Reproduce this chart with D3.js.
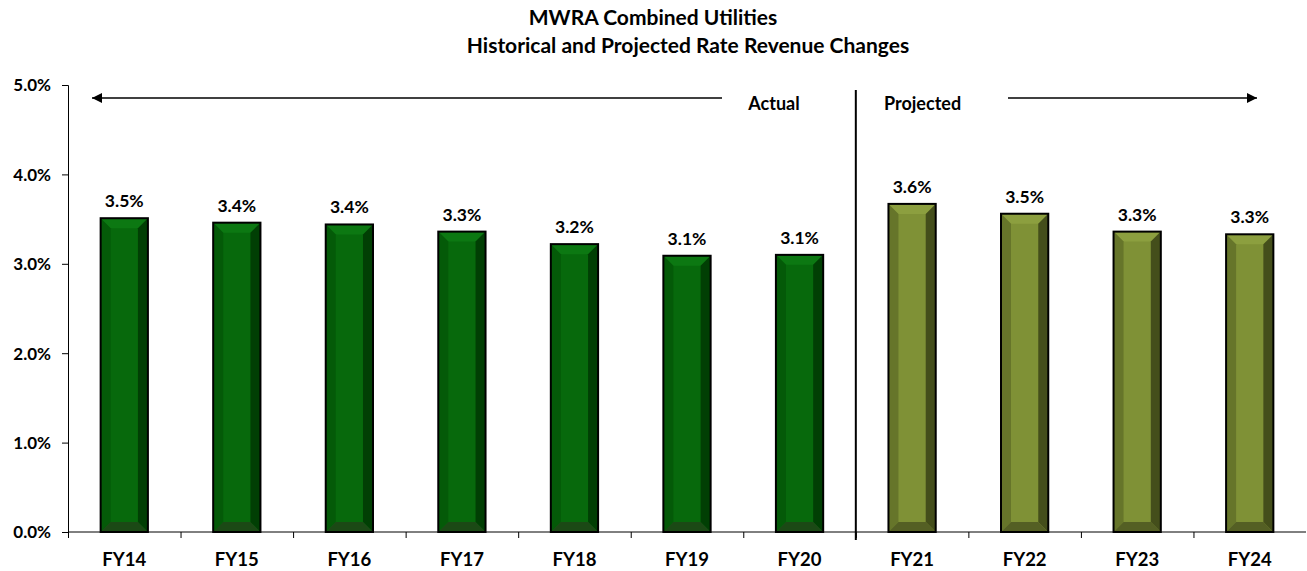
<!DOCTYPE html>
<html>
<head>
<meta charset="utf-8">
<script src="https://cdn.jsdelivr.net/npm/d3@7"></script>
<style>
  body { margin: 0; background: #fff; }
  text { font-family: Lato, "Open Sans", sans-serif; font-weight: bold; fill: #000; }
</style>
</head>
<body>
<div class="chart"></div>
<script>
// data
const years = ["FY14", "FY15", "FY16", "FY17", "FY18", "FY19", "FY20", "FY21", "FY22", "FY23", "FY24"];
const rateChange = [3.51, 3.46, 3.44, 3.36, 3.22, 3.09, 3.10, 3.67, 3.56, 3.36, 3.33];
const labels = ["3.5%", "3.4%", "3.4%", "3.3%", "3.2%", "3.1%", "3.1%", "3.6%", "3.5%", "3.3%", "3.3%"];
const yTicks = [0, 1, 2, 3, 4, 5];
const firstProjected = "FY21";

const svgWidth = 1307;
const svgHeight = 571;
const margin = { top: 85, right: 1, bottom: 39, left: 68 };
const width = svgWidth - margin.left - margin.right;
const height = svgHeight - margin.top - margin.bottom;

const svg = d3.select(".chart")
  .append("svg")
  .attr("width", svgWidth)
  .attr("height", svgHeight);

// title
svg.append("text")
  .attr("x", 653).attr("y", 25)
  .attr("text-anchor", "middle")
  .style("font-size", "21px")
  .text("MWRA Combined Utilities");
svg.append("text")
  .attr("x", 688).attr("y", 53)
  .attr("text-anchor", "middle")
  .style("font-size", "21px")
  .text("Historical and Projected Rate Revenue Changes");

const chartGroup = svg.append("g")
  .attr("transform", `translate(${margin.left}, ${margin.top})`);

// scales
const xScale = d3.scaleBand()
  .domain(years)
  .range([0, width])
  .paddingInner(0.58)
  .paddingOuter(0.29);

const xBand = d3.scaleBand().domain(years).range([0, width]);

const yScale = d3.scaleLinear()
  .domain([0, 5])
  .range([height, 0]);

// y axis
const yAxis = d3.axisLeft(yScale)
  .tickValues(yTicks)
  .tickSize(6)
  .tickFormat(d => d.toFixed(1) + "%");
const yG = chartGroup.append("g").call(yAxis);
yG.select(".domain").attr("stroke", "#000").attr("d", `M-6,0.5H0.5V${height}`);
yG.selectAll(".tick line").attr("stroke", "#000");
yG.selectAll(".tick text").attr("x", -17).attr("dy", "0.35em").style("font-size", "17px");

// x axis with ticks between categories
const xG = chartGroup.append("g").attr("transform", `translate(0, ${height})`);
xG.append("line")
  .attr("x1", 0).attr("x2", width)
  .attr("stroke", "#000");
xG.selectAll(".xtick")
  .data(years)
  .enter()
  .append("line")
  .attr("x1", d => xBand(d) + 0.5).attr("x2", d => xBand(d) + 0.5)
  .attr("y1", 0).attr("y2", 6)
  .attr("stroke", "#000");
xG.selectAll(".xlabel")
  .data(years)
  .enter()
  .append("text")
  .attr("x", d => xBand(d) + xBand.bandwidth() / 2)
  .attr("y", 34)
  .attr("text-anchor", "middle")
  .style("font-size", "18.5px")
  .text(d => d);

// bevelled bars
const palettes = {
  actual: { main: "#07690c", top: "#0c7812", left: "#045a08", right: "#013f04", bottom: "#1b4915" },
  projected: { main: "#7f9136", top: "#8c9f3f", left: "#66752a", right: "#444e1b", bottom: "#545f24" }
};
const bev = 10;
const projIndex = years.indexOf(firstProjected);

rateChange.forEach((v, i) => {
  const c = i >= projIndex ? palettes.projected : palettes.actual;
  const x0 = xScale(years[i]);
  const x1 = x0 + xScale.bandwidth();
  const y0 = yScale(v);
  const y1 = yScale(0);
  const g = chartGroup.append("g");
  const poly = pts => pts.map(p => p.join(",")).join(" ");
  g.append("rect")
    .attr("x", x0).attr("y", y0)
    .attr("width", x1 - x0).attr("height", y1 - y0)
    .attr("fill", c.main);
  g.append("polygon").attr("fill", c.top)
    .attr("points", poly([[x0, y0], [x1, y0], [x1 - bev, y0 + bev], [x0 + bev, y0 + bev]]));
  g.append("polygon").attr("fill", c.left)
    .attr("points", poly([[x0, y0], [x0 + bev, y0 + bev], [x0 + bev, y1 - bev], [x0, y1]]));
  g.append("polygon").attr("fill", c.right)
    .attr("points", poly([[x1, y0], [x1 - bev, y0 + bev], [x1 - bev, y1 - bev], [x1, y1]]));
  g.append("polygon").attr("fill", c.bottom)
    .attr("points", poly([[x0, y1], [x0 + bev, y1 - bev], [x1 - bev, y1 - bev], [x1, y1]]));
  g.append("rect")
    .attr("x", x0).attr("y", y0)
    .attr("width", x1 - x0).attr("height", y1 - y0)
    .attr("fill", "none")
    .attr("stroke", "#000")
    .attr("stroke-width", 2);
  g.append("text")
    .attr("x", (x0 + x1) / 2)
    .attr("y", y0 - 11)
    .attr("text-anchor", "middle")
    .style("font-size", "17.5px")
    .text(labels[i]);
});

// divider between actual and projected
const divX = xBand(firstProjected);
chartGroup.append("line")
  .attr("x1", divX).attr("x2", divX)
  .attr("y1", 5).attr("y2", height + 8)
  .attr("stroke", "#000")
  .attr("stroke-width", 2);

// arrows
svg.append("defs").append("marker")
  .attr("id", "arrowhead")
  .attr("viewBox", "0 0 10 10")
  .attr("refX", 10).attr("refY", 5)
  .attr("markerWidth", 11).attr("markerHeight", 10)
  .attr("markerUnits", "userSpaceOnUse")
  .attr("orient", "auto")
  .append("path")
  .attr("d", "M0,0L10,5L0,10Z")
  .attr("fill", "#000");

const arrowY = 13;
chartGroup.append("line")
  .attr("x1", 654).attr("x2", 24)
  .attr("y1", arrowY).attr("y2", arrowY)
  .attr("stroke", "#000").attr("stroke-width", 1.5)
  .attr("marker-end", "url(#arrowhead)");
chartGroup.append("line")
  .attr("x1", 940).attr("x2", 1189)
  .attr("y1", arrowY).attr("y2", arrowY)
  .attr("stroke", "#000").attr("stroke-width", 1.5)
  .attr("marker-end", "url(#arrowhead)");

chartGroup.append("text")
  .attr("x", 706).attr("y", arrowY + 12)
  .attr("text-anchor", "middle")
  .style("font-size", "18px")
  .text("Actual");
chartGroup.append("text")
  .attr("x", 816).attr("y", arrowY + 12)
  .style("font-size", "18px")
  .text("Projected");
</script>
</body>
</html>
